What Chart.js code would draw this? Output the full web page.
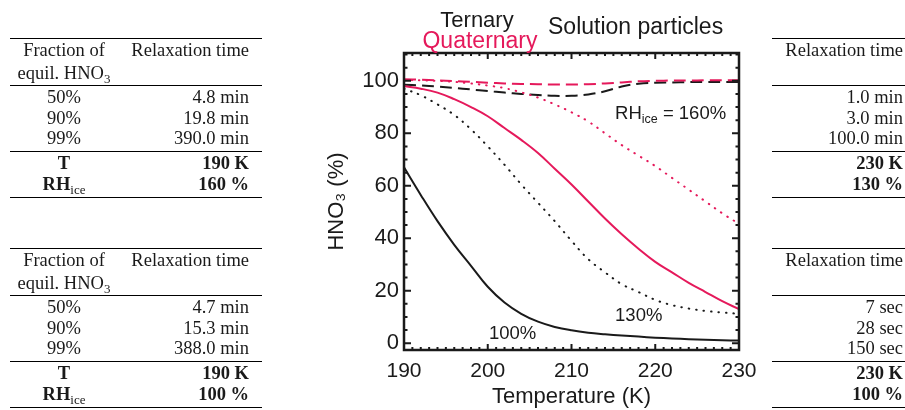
<!DOCTYPE html>
<html>
<head>
<meta charset="utf-8">
<script src="https://cdn.jsdelivr.net/npm/chart.js@4.4.0/dist/chart.umd.min.js"></script>
<style>
  html, body { margin: 0; padding: 0; background: #fff; }
  #wrap { position: relative; width: 905px; height: 410px; overflow: hidden; }
  #chart { position: absolute; left: 0; top: 0; }
  .tbl { position: absolute; font-family: "Liberation Serif", "Times New Roman", serif; font-size: 18.5px; color: #1a1a1a;
         border-top: 1px solid #000; border-bottom: 1px solid #000; }
  .row { position: relative; height: 20.5px; line-height: 20.5px; }
  .hd { height: 23px; line-height: 23px; }
  .rule { border-bottom: 1px solid #000; }
  .first { margin-top: 1px; }
  .last { padding-bottom: 2.5px; }
  .c1 { position: absolute; left: 0; width: 108px; text-align: center; white-space: nowrap; }
  .c2 { position: absolute; right: 13px; text-align: right; white-space: nowrap; }
  .b .c1, .b .c2 { font-weight: bold; }
  sub { font-size: 13px; font-weight: normal; vertical-align: baseline; position: relative; top: 4px; }
  .cut .c2 { right: 19px; }
</style>
</head>
<body>
<div id="wrap">
  <canvas id="chart" width="905" height="410"></canvas>

  <!-- left tables -->
  <div class="tbl" style="left:10px; top:38px; width:252px;">
    <div class="row hd"><span class="c1">Fraction of</span><span class="c2">Relaxation time</span></div>
    <div class="row hd rule"><span class="c1">equil. HNO<sub>3</sub></span></div>
    <div class="row first"><span class="c1">50%</span><span class="c2">4.8 min</span></div>
    <div class="row"><span class="c1">90%</span><span class="c2">19.8 min</span></div>
    <div class="row last rule"><span class="c1">99%</span><span class="c2">390.0 min</span></div>
    <div class="row first b"><span class="c1">T</span><span class="c2">190 K</span></div>
    <div class="row last b"><span class="c1">RH<sub>ice</sub></span><span class="c2">160 %</span></div>
  </div>

  <div class="tbl" style="left:10px; top:248px; width:252px;">
    <div class="row hd"><span class="c1">Fraction of</span><span class="c2">Relaxation time</span></div>
    <div class="row hd rule"><span class="c1">equil. HNO<sub>3</sub></span></div>
    <div class="row first"><span class="c1">50%</span><span class="c2">4.7 min</span></div>
    <div class="row"><span class="c1">90%</span><span class="c2">15.3 min</span></div>
    <div class="row last rule"><span class="c1">99%</span><span class="c2">388.0 min</span></div>
    <div class="row first b"><span class="c1">T</span><span class="c2">190 K</span></div>
    <div class="row last b"><span class="c1">RH<sub>ice</sub></span><span class="c2">100 %</span></div>
  </div>

  <!-- right tables (cut off by the page edge) -->
  <div class="tbl cut" style="left:772px; top:38px; width:150px;">
    <div class="row hd"><span class="c2">Relaxation time</span></div>
    <div class="row hd rule"></div>
    <div class="row first"><span class="c2">1.0 min</span></div>
    <div class="row"><span class="c2">3.0 min</span></div>
    <div class="row last rule"><span class="c2">100.0 min</span></div>
    <div class="row first b"><span class="c2">230 K</span></div>
    <div class="row last b"><span class="c2">130 %</span></div>
  </div>

  <div class="tbl cut" style="left:772px; top:248px; width:150px;">
    <div class="row hd"><span class="c2">Relaxation time</span></div>
    <div class="row hd rule"></div>
    <div class="row first"><span class="c2">7 sec</span></div>
    <div class="row"><span class="c2">28 sec</span></div>
    <div class="row last rule"><span class="c2">150 sec</span></div>
    <div class="row first b"><span class="c2">230 K</span></div>
    <div class="row last b"><span class="c2">100 %</span></div>
  </div>
</div>

<script>
// data
const temperature = [190, 192, 194, 196, 198, 200, 202, 204, 206, 208, 210, 212, 214, 216, 218, 220, 222, 224, 226, 228, 230];

// ternary solution (black)
const ternary100 = [67, 56.5, 46.5, 37.5, 29.5, 21.5, 15.5, 11.2, 8.2, 6.2, 4.9, 4.0, 3.4, 2.9, 2.5, 2.1, 1.8, 1.5, 1.3, 1.1, 1.0];
const ternary130 = [97, 94.5, 91, 87, 81.5, 75, 68, 60.5, 53.5, 46.5, 39, 32, 27, 22.5, 19.5, 16.5, 14.5, 13.2, 12.3, 11.7, 11.2];
const ternary160 = [98.5, 98.2, 97.8, 97.3, 96.7, 96.1, 95.5, 95, 94.6, 94.3, 94.3, 94.8, 96, 97.8, 98.9, 99.3, 99.4, 99.5, 99.5, 99.5, 99.5];

// quaternary solution (red)
const quaternary100 = [98, 97, 95.5, 93, 90, 86.5, 82, 77.5, 72.5, 66.5, 60.5, 54, 47.5, 41.5, 36, 31, 27, 23, 19.5, 16, 13];
const quaternary130 = [100.3, 100.2, 100, 99.6, 99, 98.2, 97.2, 95.6, 93.6, 91, 88, 84.5, 80, 75.5, 71.5, 67.5, 63, 58.5, 54, 49.5, 45.5];
const quaternary160 = [100.6, 100.4, 100.2, 99.9, 99.6, 99.3, 99.0, 98.8, 98.7, 98.6, 98.6, 98.7, 99.0, 99.4, 99.8, 100.0, 100.1, 100.1, 100.2, 100.2, 100.2];

const tempTicks = [190, 200, 210, 220, 230];
const hno3Ticks = [0, 20, 40, 60, 80, 100];

const black = '#1a1a1a';
const red = '#e5195b';
const sans = '"Liberation Sans", Arial, Helvetica, sans-serif';

Chart.defaults.font.family = sans;
Chart.defaults.color = black;

function points(values) {
  return temperature.map((t, i) => ({ x: t, y: values[i] }));
}

function curve(values, color, dash) {
  return {
    data: points(values),
    borderColor: color,
    borderWidth: 2,
    borderDash: dash,
    borderCapStyle: dash.length && dash[0] < 1 ? 'round' : 'butt',
    pointRadius: 0,
    tension: 0.4,
    fill: false
  };
}

const dotted = [0.5, 7];
const dashed = [12, 6];

// frame with inward ticks on all four sides, plus the labels
const framePlugin = {
  id: 'frame',
  afterDatasetsDraw(chart) {
    const { ctx, chartArea: a, scales: { x, y } } = chart;
    ctx.save();
    ctx.strokeStyle = black;
    ctx.lineWidth = 2;
    ctx.beginPath();
    for (let t = 190; t <= 230; t++) {
      const px = x.getPixelForValue(t);
      const len = t % 10 === 0 ? 6 : 3;
      ctx.moveTo(px, a.bottom); ctx.lineTo(px, a.bottom - len);
      ctx.moveTo(px, a.top); ctx.lineTo(px, a.top + len);
    }
    for (let v = 0; v <= 110; v += 5) {
      const py = y.getPixelForValue(v);
      const len = v % 20 === 0 ? 7 : 3.5;
      ctx.moveTo(a.left, py); ctx.lineTo(a.left + len, py);
      ctx.moveTo(a.right, py); ctx.lineTo(a.right - len, py);
    }
    ctx.stroke();
    ctx.lineWidth = 2.5;
    ctx.strokeRect(a.left, a.top, a.right - a.left, a.bottom - a.top);
    ctx.restore();
  },
  afterDraw(chart) {
    const { ctx, chartArea: a, scales: { x, y } } = chart;
    ctx.save();
    ctx.textBaseline = 'middle';

    // titles above the frame
    ctx.fillStyle = black;
    ctx.font = '22px ' + sans;
    ctx.textAlign = 'center';
    ctx.fillText('Ternary', a.left + 73, a.top - 32);
    ctx.fillStyle = red;
    ctx.font = '23px ' + sans;
    ctx.fillText('Quaternary', a.left + 76, a.top - 11);
    ctx.fillStyle = black;
    ctx.textAlign = 'left';
    ctx.fillText('Solution particles', a.left + 144, a.top - 25);

    // curve labels
    ctx.font = '18.5px ' + sans;
    let px = x.getPixelForValue(215.2);
    let py = y.getPixelForValue(87.5);
    ctx.fillText('RH', px, py);
    px += ctx.measureText('RH').width;
    ctx.font = '12.5px ' + sans;
    ctx.fillText('ice', px, py + 6);
    px += ctx.measureText('ice').width;
    ctx.font = '18.5px ' + sans;
    ctx.fillText(' = 160%', px, py);

    ctx.fillText('130%', x.getPixelForValue(215.2), y.getPixelForValue(10.4));
    ctx.fillText('100%', x.getPixelForValue(200.15), y.getPixelForValue(3.5));
    ctx.restore();
  }
};

const hno3Chart = new Chart(document.getElementById('chart'), {
  type: 'line',
  data: {
    datasets: [
      curve(quaternary160, red, dashed),
      curve(quaternary130, red, dotted),
      curve(quaternary100, red, []),
      curve(ternary160, black, dashed),
      curve(ternary130, black, dotted),
      curve(ternary100, black, [])
    ]
  },
  options: {
    responsive: false,
    animation: false,
    layout: {
      padding: { left: 324, right: 166, top: 53, bottom: 0 }
    },
    scales: {
      x: {
        type: 'linear',
        min: 190,
        max: 230,
        afterBuildTicks: scale => { scale.ticks = tempTicks.map(v => ({ value: v })); },
        afterFit: scale => { scale.height = 60; },
        grid: { display: false, drawTicks: false },
        border: { display: false },
        ticks: { font: { size: 21 }, color: black, padding: 9, maxRotation: 0 },
        title: { display: true, text: 'Temperature (K)', font: { size: 22 }, color: black, padding: { top: 0, bottom: 0 } }
      },
      y: {
        type: 'linear',
        min: -2.6,
        max: 110.6,
        afterBuildTicks: scale => { scale.ticks = hno3Ticks.map(v => ({ value: v })); },
        afterFit: scale => { scale.width = 80; },
        grid: { display: false, drawTicks: false },
        border: { display: false },
        ticks: { font: { size: 22 }, color: black, padding: 5 },
        title: { display: true, text: 'HNO₃ (%)', font: { size: 22 }, color: black, padding: 0 }
      }
    },
    plugins: {
      legend: { display: false },
      tooltip: { enabled: false }
    }
  },
  plugins: [framePlugin]
});
</script>
</body>
</html>
